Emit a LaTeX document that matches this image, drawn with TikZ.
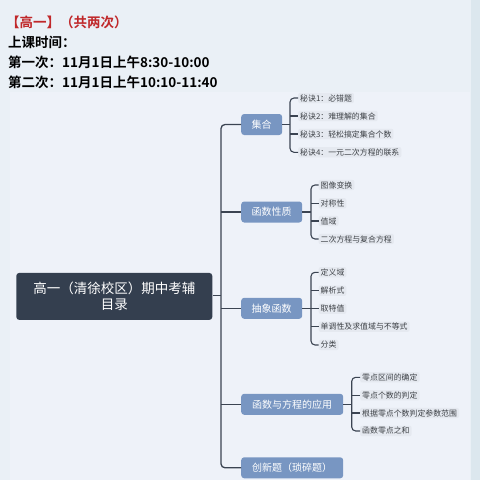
\documentclass[tikz,border=0pt]{standalone}
\usepackage{fontspec}
\setmainfont{Noto Sans CJK SC}
\newfontfamily\cjk{Noto Sans CJK SC}
\newfontfamily\cjkb{Noto Sans CJK SC Bold}
\definecolor{bgA}{HTML}{EAF0F6}
\definecolor{panel}{HTML}{EEF2F9}
\definecolor{edge}{HTML}{DCE7EE}
\definecolor{titlered}{HTML}{C0282A}
\definecolor{rootc}{HTML}{343F4F}
\definecolor{branchc}{HTML}{7896C2}
\definecolor{linec}{HTML}{3B4452}
\definecolor{leafbg}{HTML}{E5E9F0}
\definecolor{leaftx}{HTML}{3E4247}
\tikzset{
  hdr/.style={anchor=west,inner sep=0pt,font=\cjkb\fontsize{13.5}{14}\selectfont},
  rootbox/.style={fill=rootc,rounded corners=3pt,text=white,minimum width=196pt,minimum height=47pt,align=center,inner sep=0pt,font=\cjk\fontsize{13.5}{15.5}\selectfont},
  branch/.style={fill=branchc,rounded corners=3pt,text=white,anchor=west,minimum height=21pt,inner sep=0pt,font=\cjk\fontsize{10}{12}\selectfont},
  leaf/.style={fill=leafbg,rounded corners=2pt,text=leaftx,anchor=west,inner xsep=2pt,inner ysep=1.5pt,font=\cjk\fontsize{7.9}{9}\selectfont},
  conn/.style={draw=linec,line width=1.3pt,rounded corners=4pt},
  tick/.style={draw=linec,line width=1.1pt}
}
\begin{document}
\begin{tikzpicture}[x=1pt,y=-1pt]
\useasboundingbox (0,0) rectangle (480,480);
\fill[bgA] (0,0) rectangle (480,480);
\fill[edge] (471,0) rectangle (480,480);
\fill[panel] (10,92) rectangle (470,480);
% header
\node[hdr,text=titlered] (t0) at (6,22.5) {【高一】（共两次）};
\node[hdr] (t1) at (8,42.5) {上课时间：};
\node[hdr] (t2) at (8,62.5) {第一次：11月1日上午8:30-10:00};
\node[hdr] (t3) at (8,82) {第二次：11月1日上午10:10-11:40};
% root
\node[rootbox] (root) at (114.3,296.4) {高一（清徐校区）期中考辅\\目录};
\coordinate (tr) at (221,0);
% branches
\node[branch,minimum width=41pt] (b1) at (241,124.5) {集合};
\node[branch,minimum width=61pt] (b2) at (241,212) {函数性质};
\node[branch,minimum width=61pt] (b3) at (241,308.3) {抽象函数};
\node[branch,minimum width=102pt] (b4) at (241,404.3) {函数与方程的应用};
\node[branch,minimum width=102pt] (b5) at (241,467.8) {创新题（琐碎题）};
% trunk
\draw[conn] (b1.west) -- (b1.west -| tr) -- (b5.west -| tr) -- (b5.west);
\draw[tick] (root.east |- 0,295.7) -- (tr |- 0,295.7);
\draw[tick] (b2.west -| tr) -- (b2.west);
\draw[tick] (b3.west -| tr) -- (b3.west);
\draw[tick] (b4.west -| tr) -- (b4.west);
% leaves of b1
\coordinate (k1) at (290,0);
\node[leaf] (l11) at (298,98) {秘诀1：必错题};
\node[leaf] (l12) at (298,116) {秘诀2：难理解的集合};
\node[leaf] (l13) at (298,134) {秘诀3：轻松搞定集合个数};
\node[leaf] (l14) at (298,152.3) {秘诀4：一元二次方程的联系};
\draw[conn,line width=1.1pt] (l11.west) -- (l11.west -| k1) -- (l14.west -| k1) -- (l14.west);
\draw[tick] (l12.west -| k1) -- (l12.west);
\draw[tick] (l13.west -| k1) -- (l13.west);
\draw[tick] (b1.east) -- (b1.east -| k1);
% leaves of b2
\coordinate (k2) at (311,0);
\node[leaf] (l21) at (318.5,185) {图像变换};
\node[leaf] (l22) at (318.5,203.3) {对称性};
\node[leaf] (l23) at (318.5,221) {值域};
\node[leaf] (l24) at (318.5,239) {二次方程与复合方程};
\draw[conn,line width=1.1pt] (l21.west) -- (l21.west -| k2) -- (l24.west -| k2) -- (l24.west);
\draw[tick] (l22.west -| k2) -- (l22.west);
\draw[tick] (l23.west -| k2) -- (l23.west);
\draw[tick] (b2.east) -- (b2.east -| k2);
% leaves of b3
\node[leaf] (l31) at (318.5,272.3) {定义域};
\node[leaf] (l32) at (318.5,290.7) {解析式};
\node[leaf] (l33) at (318.5,308.7) {取特值};
\node[leaf] (l34) at (318.5,326.7) {单调性及求值域与不等式};
\node[leaf] (l35) at (318.5,345) {分类};
\draw[conn,line width=1.1pt] (l31.west) -- (l31.west -| k2) -- (l35.west -| k2) -- (l35.west);
\draw[tick] (l32.west -| k2) -- (l32.west);
\draw[tick] (l33.west -| k2) -- (l33.west);
\draw[tick] (l34.west -| k2) -- (l34.west);
\draw[tick] (b3.east) -- (b3.east -| k2);
% leaves of b4
\coordinate (k4) at (351.7,0);
\node[leaf] (l41) at (360,377.3) {零点区间的确定};
\node[leaf] (l42) at (360,395.3) {零点个数的判定};
\node[leaf] (l43) at (360,413) {根据零点个数判定参数范围};
\node[leaf] (l44) at (360,431) {函数零点之和};
\draw[conn,line width=1.1pt] (l41.west) -- (l41.west -| k4) -- (l44.west -| k4) -- (l44.west);
\draw[tick] (l42.west -| k4) -- (l42.west);
\draw[tick] (l43.west -| k4) -- (l43.west);
\draw[tick] (b4.east) -- (b4.east -| k4);
\end{tikzpicture}
\end{document}
